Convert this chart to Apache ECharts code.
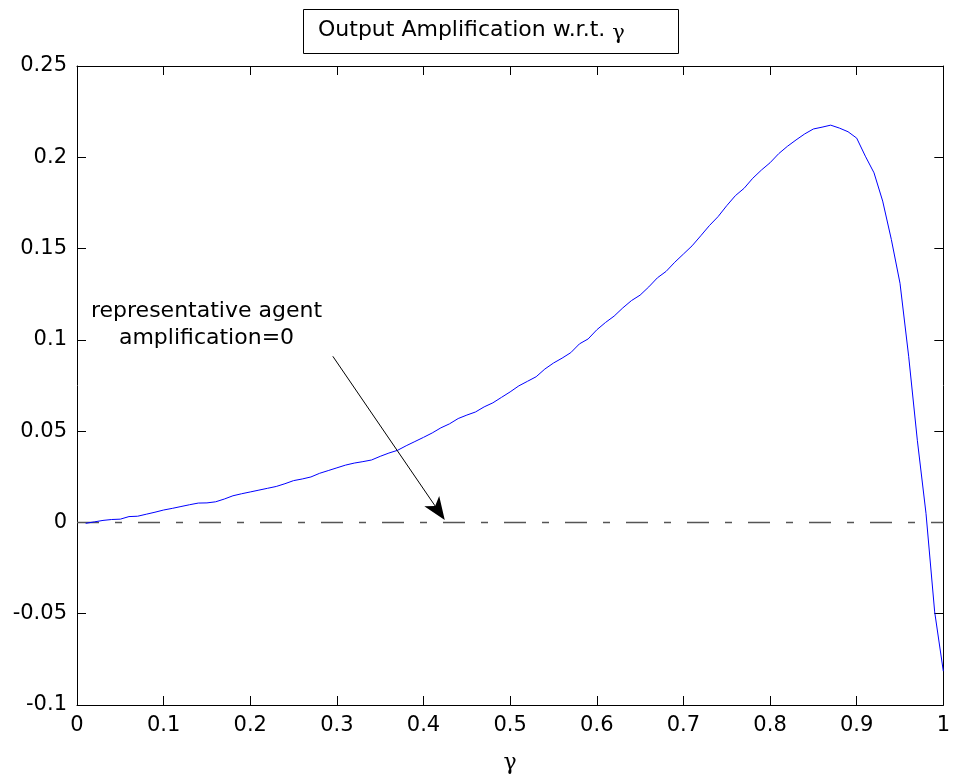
<!DOCTYPE html>
<html>
<head>
<meta charset="utf-8">
<script src="https://cdn.jsdelivr.net/npm/echarts@6/dist/echarts.min.js"></script>
<style>
html,body{margin:0;padding:0;background:#fff;}
#chart{width:953px;height:779px;}
</style>
</head>
<body>
<div id="chart"></div>
<script>
// ---- data ----
const gammaValues = [0.01,0.02,0.03,0.04,0.05,0.06,0.07,0.08,0.09,0.10,
  0.11,0.12,0.13,0.14,0.15,0.16,0.17,0.18,0.19,0.20,
  0.21,0.22,0.23,0.24,0.25,0.26,0.27,0.28,0.29,0.30,
  0.31,0.32,0.33,0.34,0.35,0.36,0.37,0.38,0.39,0.40,
  0.41,0.42,0.43,0.44,0.45,0.46,0.47,0.48,0.49,0.50,
  0.51,0.52,0.53,0.54,0.55,0.56,0.57,0.58,0.59,0.60,
  0.61,0.62,0.63,0.64,0.65,0.66,0.67,0.68,0.69,0.70,
  0.71,0.72,0.73,0.74,0.75,0.76,0.77,0.78,0.79,0.80,
  0.81,0.82,0.83,0.84,0.85,0.86,0.87,0.88,0.89,0.90,
  0.91,0.92,0.93,0.94,0.95,0.96,0.97,0.98,0.99,1.00];
const amplification = [-0.0005,0.0003,0.0011,0.0016,0.0018,0.0032,0.0034,0.0045,0.0056,0.0068,
  0.0077,0.0087,0.0097,0.0106,0.0107,0.0113,0.0128,0.0146,0.0157,0.0167,
  0.0177,0.0187,0.0197,0.0212,0.0229,0.0238,0.0249,0.0269,0.0284,0.0299,
  0.0314,0.0325,0.0333,0.0342,0.0362,0.0380,0.0395,0.0420,0.0443,0.0466,
  0.0490,0.0518,0.0540,0.0569,0.0588,0.0605,0.0633,0.0655,0.0685,0.0715,
  0.0748,0.0773,0.0798,0.0840,0.0873,0.0900,0.0930,0.0978,0.1005,0.1055,
  0.1095,0.1130,0.1175,0.1215,0.1245,0.1290,0.1340,0.1375,0.1425,0.1470,
  0.1515,0.1570,0.1626,0.1675,0.1735,0.1790,0.1830,0.1885,0.1930,0.1970,
  0.2020,0.2060,0.2095,0.2128,0.2155,0.2165,0.2176,0.2160,0.2140,0.2105,
  0.2006,0.1915,0.1760,0.1550,0.1310,0.0910,0.0450,0.0050,-0.0490,-0.0815];
const zeroLine = [[0, 0], [1, 0]];
const arrowFrom = [0.2953, 0.091];
const arrowTo = [0.4170, 0.0065]; // centre of the arrowhead (tip sits near gamma=0.423 on the zero line)
const annotationText = ['representative agent', 'amplification=0'];
const annotationAt = [0.1495, 0.1085];
const xTicks = [0, 0.1, 0.2, 0.3, 0.4, 0.5, 0.6, 0.7, 0.8, 0.9, 1];
const xTickLabels = ['0','0.1','0.2','0.3','0.4','0.5','0.6','0.7','0.8','0.9','1'];
const yTicks = [-0.1, -0.05, 0, 0.05, 0.1, 0.15, 0.2, 0.25];
const yTickLabels = ['-0.1','-0.05','0','0.05','0.1','0.15','0.2','0.25'];
const titleText = 'Output Amplification w.r.t. ';
const gammaSymbol = 'γ';

const curve = gammaValues.map((g, i) => [g, amplification[i]]);
function labelFor(ticks, labels) {
  return v => {
    for (let i = 0; i < ticks.length; i++) if (Math.abs(ticks[i] - v) < 1e-9) return labels[i];
    return '';
  };
}
const font = 'DejaVu Sans, Arial, sans-serif';
const serif = 'DejaVu Serif, Times New Roman, serif';
const xStep = xTicks[1] - xTicks[0];
const yStep = yTicks[1] - yTicks[0];

const axisLineStyle = {show: true, onZero: false, lineStyle: {color: '#000', width: 1}};
const tick = {show: true, inside: true, length: 9, lineStyle: {color: '#000', width: 1}};

const chart = echarts.init(document.getElementById('chart'), null, {renderer: 'canvas'});
chart.setOption({
  animation: false,
  backgroundColor: '#fff',
  title: {
    text: titleText + '{g|' + gammaSymbol + '}',
    left: 303, top: 9,
    padding: [10, 54, 10, 15],
    borderColor: '#000', borderWidth: 1,
    textStyle: {
      fontFamily: font, fontSize: 22, fontWeight: 'normal', color: '#000', lineHeight: 23,
      rich: {g: {fontFamily: serif, fontSize: 21, color: '#000', padding: [6, 0, 0, 0]}}
    }
  },
  grid: {left: 77, right: 8, top: 66, bottom: 74, containLabel: false},
  xAxis: [{
    type: 'value', min: xTicks[0], max: xTicks[xTicks.length - 1], interval: xStep,
    name: gammaSymbol, nameLocation: 'middle', nameGap: 47,
    nameTextStyle: {fontFamily: serif, fontSize: 22, color: '#000'},
    axisLine: axisLineStyle, axisTick: tick, splitLine: {show: false},
    axisLabel: {fontFamily: font, fontSize: 21, color: '#000', margin: 10, formatter: labelFor(xTicks, xTickLabels)}
  }, {
    type: 'value', position: 'top', min: xTicks[0], max: xTicks[xTicks.length - 1], interval: xStep,
    axisLine: axisLineStyle, axisTick: tick, splitLine: {show: false}, axisLabel: {show: false}
  }],
  yAxis: [{
    type: 'value', position: 'left', min: yTicks[0], max: yTicks[yTicks.length - 1], interval: yStep,
    axisLine: axisLineStyle, axisTick: tick, splitLine: {show: false},
    axisLabel: {fontFamily: font, fontSize: 21, color: '#000', margin: 10, formatter: labelFor(yTicks, yTickLabels)}
  }, {
    type: 'value', position: 'right', min: yTicks[0], max: yTicks[yTicks.length - 1], interval: yStep,
    axisLine: axisLineStyle, axisTick: tick, splitLine: {show: false}, axisLabel: {show: false}
  }],
  series: [{
    type: 'line', data: zeroLine, symbol: 'none', silent: true, z: 3,
    lineStyle: {color: '#555', width: 1.5, type: [22, 16, 7, 16]},
    markLine: {
      silent: true, animation: false,
      symbol: ['none', 'arrow'], symbolSize: 21,
      label: {show: false},
      lineStyle: {color: '#000', width: 1, type: 'solid'},
      data: [[
        {coord: arrowFrom, symbol: 'none'},
        {coord: arrowTo, symbol: 'path://M9,0 L18,23 L9,17 L0,23 Z', symbolSize: [18, 23], symbolKeepAspect: true}
      ]]
    }
  }, {
    type: 'line', data: curve, symbol: 'none', silent: true, z: 4,
    lineStyle: {color: '#0000ff', width: 1}
  }, {
    type: 'scatter', data: [annotationAt], symbolSize: 0, silent: true,
    itemStyle: {opacity: 1, color: 'transparent'},
    label: {
      show: true, position: 'inside', formatter: annotationText.join('\n'),
      fontFamily: font, fontSize: 22, lineHeight: 27, color: '#000', align: 'center'
    }
  }]
});
</script>
</body>
</html>
